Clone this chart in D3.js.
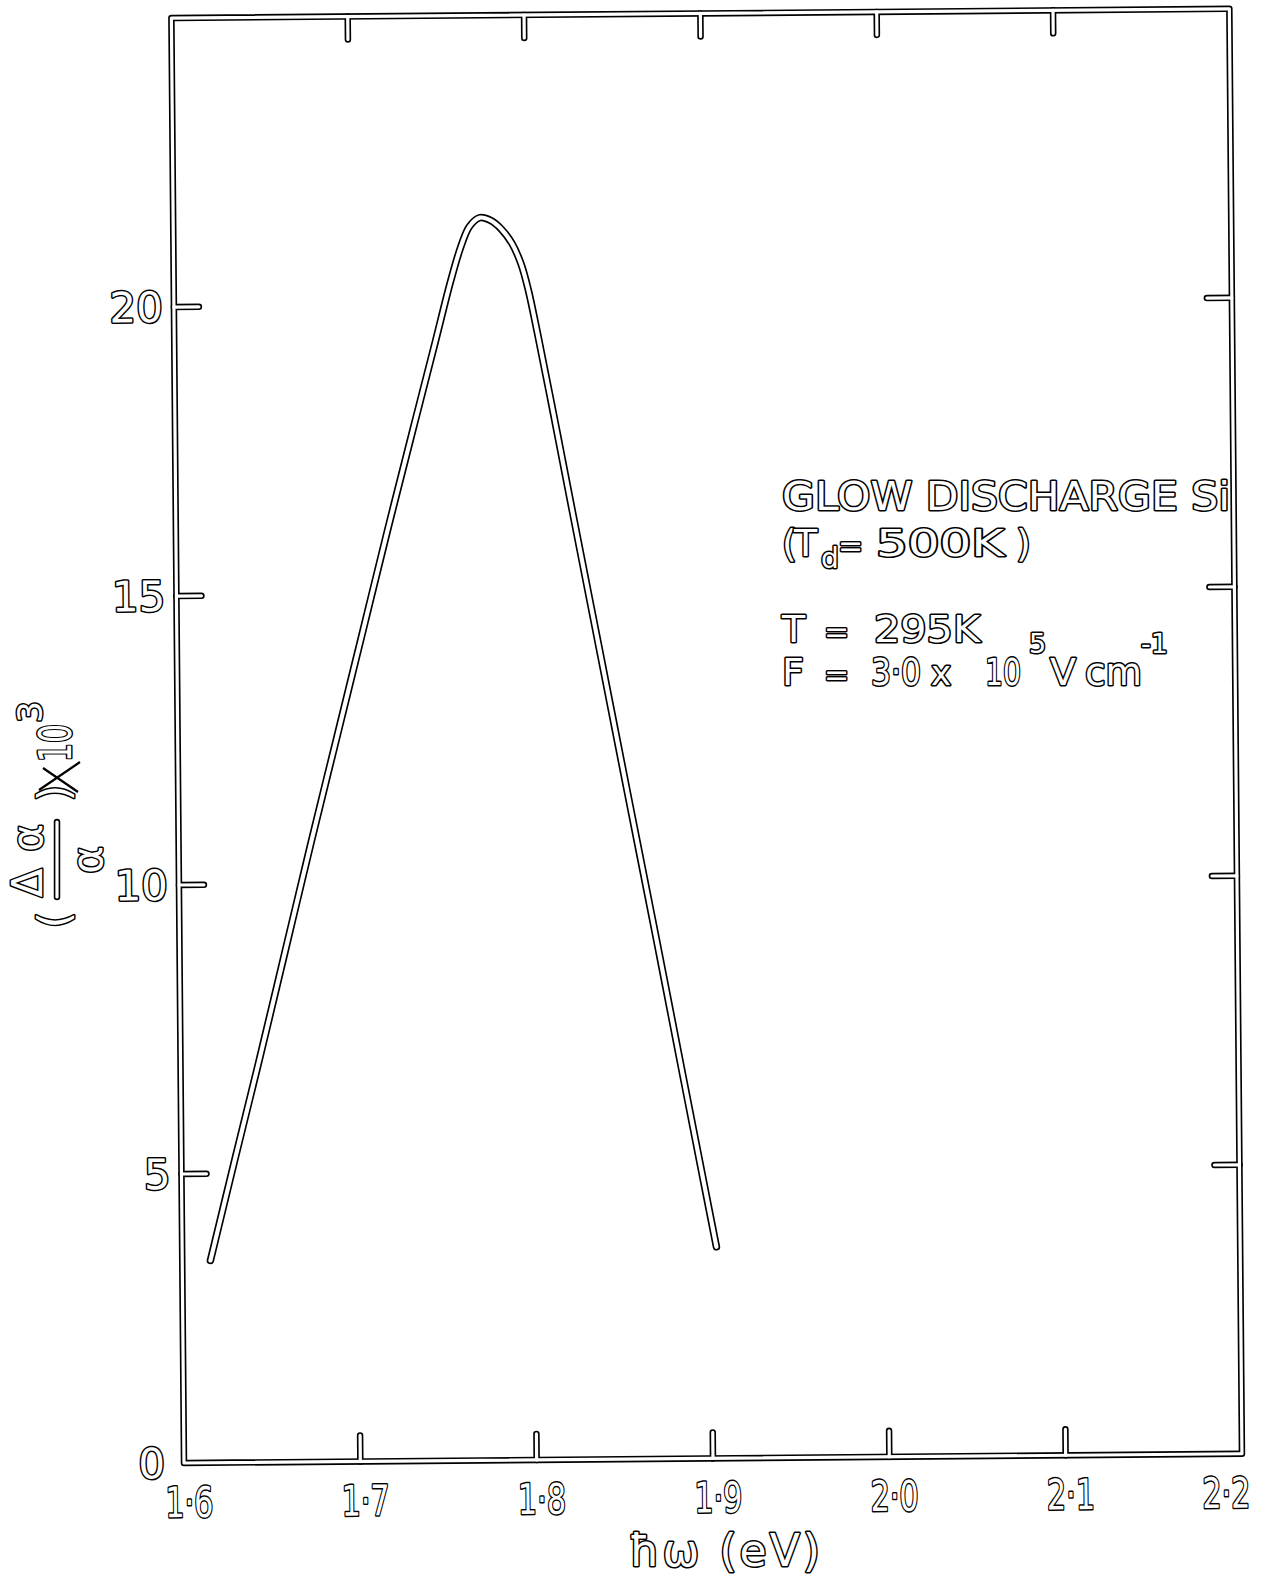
<!DOCTYPE html>
<html>
<head>
<meta charset="utf-8">
<script src="https://cdn.jsdelivr.net/npm/d3@7"></script>
<style>
  body { margin: 0; background: #fff; }
  svg { display: block; }
  .hollow { fill: #fff; stroke: #000; stroke-width: 3; paint-order: stroke; stroke-linejoin: round; font-family: "DejaVu Sans", sans-serif; }
</style>
</head>
<body>
<svg id="chart" width="1280" height="1576"></svg>
<script>
// Electroabsorption spectrum of glow-discharge a-Si (Td = 500 K), T = 295 K
const photonEnergy = [1.616, 1.630, 1.645, 1.660, 1.675, 1.690, 1.705, 1.720, 1.735, 1.748,
                      1.757, 1.763, 1.768, 1.774, 1.780, 1.786, 1.792, 1.797, 1.801, 1.806,
                      1.815, 1.825, 1.840, 1.855, 1.870, 1.885, 1.896, 1.903];
const deltaAlpha   = [3.5, 5.2, 7.0, 8.85, 10.7, 12.5, 14.3, 16.1, 17.85, 19.35,
                      20.4, 21.0, 21.35, 21.5, 21.45, 21.3, 21.05, 20.7, 20.25, 19.5,
                      18.05, 16.4, 13.95, 11.5, 9.07, 6.6, 4.8, 3.66];

const xTicks = [1.6, 1.7, 1.8, 1.9, 2.0, 2.1, 2.2];
const xTickLabels = ["1·6", "1·7", "1·8", "1·9", "2·0", "2·1", "2·2"];
const yTicks = [0, 5, 10, 15, 20];
const yTickLabels = ["0", "5", "10", "15", "20"];

const W = 1058, H = 1445;
const x = d3.scaleLinear().domain([1.6, 2.2]).range([0, W]);
const y = d3.scaleLinear().domain([0, 25]).range([0, -H]);

const svg = d3.select("#chart");
svg.append("rect").attr("width", 1280).attr("height", 1576).attr("fill", "#fff");

// plot frame, slightly tilted as on the printed page
const g = svg.append("g").attr("transform", "translate(184,1463) rotate(-0.5)");

const innerX = xTicks.slice(1, -1);
const innerY = yTicks.slice(1);

// frame + tick segments, drawn as double (hollow) strokes
const segs = [];
segs.push({ d: `M0,0 L${W},0 L${W},${-H} L0,${-H} Z` });
innerX.forEach(v => {
  segs.push({ d: `M${x(v)},0 L${x(v)},-26` });
  segs.push({ d: `M${x(v)},${-H} L${x(v)},${-H + 23}` });
});
innerY.forEach(v => {
  segs.push({ d: `M0,${y(v)} L25,${y(v)}` });
  segs.push({ d: `M${W},${y(v)} L${W - 25},${y(v)}` });
});

const line = d3.line()
  .x((d, i) => x(photonEnergy[i]))
  .y((d, i) => y(deltaAlpha[i]))
  .curve(d3.curveCatmullRom.alpha(0.5));

const ink = g.append("g").attr("fill", "none").attr("stroke", "#000")
  .attr("stroke-linecap", "round").attr("stroke-linejoin", "round");
const paper = g.append("g").attr("fill", "none").attr("stroke", "#fff")
  .attr("stroke-linecap", "round").attr("stroke-linejoin", "round");

ink.selectAll("path.seg").data(segs).join("path").attr("class", "seg")
  .attr("d", d => d.d).attr("stroke-width", 6.5);
paper.selectAll("path.seg").data(segs).join("path").attr("class", "seg")
  .attr("d", d => d.d).attr("stroke-width", 3.2);

ink.append("path").datum(deltaAlpha).attr("d", line).attr("stroke-width", 7.5);
paper.append("path").datum(deltaAlpha).attr("d", line).attr("stroke-width", 4.2);

// tick labels
g.selectAll("text.ylab").data(yTicks).join("text").attr("class", "ylab hollow")
  .attr("x", d => d === 0 ? -19 : -11).attr("y", d => y(d) + 15)
  .attr("text-anchor", "end").attr("font-size", 42)
  .text((d, i) => yTickLabels[i]);

g.selectAll("text.xlab").data(xTicks).join("text").attr("class", "xlab hollow")
  .attr("x", (d, i) => x(d) + (i === xTicks.length - 1 ? -16 : 5)).attr("y", 54)
  .attr("text-anchor", "middle").attr("font-size", 42)
  .attr("textLength", 48).attr("lengthAdjust", "spacingAndGlyphs")
  .text((d, i) => xTickLabels[i]);

// x axis title
svg.append("text").attr("class", "hollow")
  .attr("x", 726).attr("y", 1566).attr("text-anchor", "middle")
  .attr("font-size", 44).attr("letter-spacing", 3)
  .text("ħω (eV)");

// y axis title: (Δα / α) X10³, written upward
const yt = svg.append("g").attr("transform", "translate(60,860) rotate(-90)");
yt.append("text").attr("class", "hollow").attr("x", -60).attr("y", 9)
  .attr("text-anchor", "middle").attr("font-size", 42).text("(");
yt.append("text").attr("class", "hollow").attr("x", -23).attr("y", -18)
  .attr("text-anchor", "middle").attr("font-size", 42).text("Δ");
yt.append("text").attr("class", "hollow").attr("x", 22).attr("y", -18)
  .attr("text-anchor", "middle").attr("font-size", 42).text("α");
yt.append("path").attr("d", "M-37,-3 L38,-3").attr("stroke", "#000")
  .attr("stroke-width", 6.5).attr("stroke-linecap", "round");
yt.append("path").attr("d", "M-37,-3 L38,-3").attr("stroke", "#fff")
  .attr("stroke-width", 3.2).attr("stroke-linecap", "round");
yt.append("text").attr("class", "hollow").attr("x", 0).attr("y", 42)
  .attr("text-anchor", "middle").attr("font-size", 42).text("α");
yt.append("text").attr("class", "hollow").attr("x", 67).attr("y", 9)
  .attr("text-anchor", "middle").attr("font-size", 42).text(")");
yt.append("path").attr("d", "M98,20 L70,-21 M92,-17 L68,18")
  .attr("stroke", "#000").attr("stroke-width", 2.2).attr("fill", "none");
yt.append("text").attr("class", "hollow").attr("x", 98).attr("y", 11)
  .attr("font-size", 44).attr("textLength", 38).attr("lengthAdjust", "spacingAndGlyphs").text("10");
yt.append("text").attr("class", "hollow").attr("x", 148).attr("y", -18)
  .attr("text-anchor", "middle").attr("font-size", 34).text("3");

// legend block
const note = svg.append("g");
function put(str, px, py, size, len) {
  const t = note.append("text").attr("class", "hollow")
    .attr("x", px).attr("y", py).attr("font-size", size).text(str);
  if (len) t.attr("textLength", len).attr("lengthAdjust", "spacingAndGlyphs");
  return t;
}
put("GLOW DISCHARGE Si", 782, 510, 39, 448);
put("(", 782, 556, 38);
put("T", 794, 556, 38);
put("d", 821, 568, 28);
put("=", 838, 556, 30);
put("500K", 876, 556, 38, 128);
put(")", 1016, 556, 38);
put("T", 782, 642, 38);
put("=", 824, 642, 30);
put("295K", 874, 642, 38, 106);
put("F", 782, 685, 38);
put("=", 824, 685, 30);
put("3·0", 871, 685, 38, 50);
put("x", 931, 685, 34);
put("10", 985, 685, 38, 36);
put("5", 1029, 653, 27);
put("V", 1050, 685, 38);
put("cm", 1085, 685, 38, 57);
put("-1", 1141, 653, 27);
</script>
</body>
</html>
